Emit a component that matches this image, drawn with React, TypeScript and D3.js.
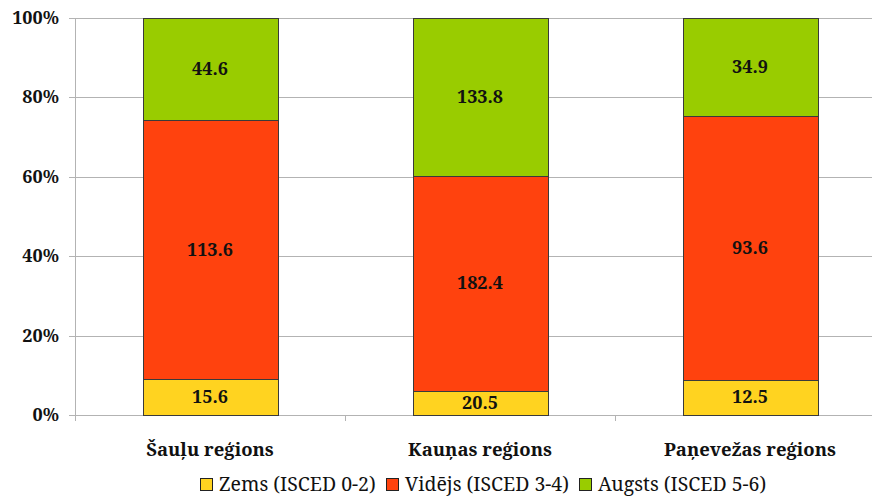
import { useEffect, useRef } from "react";
import * as d3 from "d3";

const categories = ["Šauļu reģions", "Kauņas reģions", "Paņevežas reģions"];
const seriesNames = ["Zems (ISCED 0-2)", "Vidējs (ISCED 3-4)", "Augsts (ISCED 5-6)"];
const zems = [15.6, 20.5, 12.5];
const videjs = [113.6, 182.4, 93.6];
const augsts = [44.6, 133.8, 34.9];
const yTicks = [0, 0.2, 0.4, 0.6, 0.8, 1];

const COLORS = ["#ffd320", "#ff420e", "#99cc00"];
const FONT = "Noto Serif, Liberation Serif, serif";

export default function App() {
    const ref = useRef<SVGSVGElement | null>(null);

    useEffect(() => {
        const svg = d3.select(ref.current);
        svg.selectAll("*").remove();

        const W = 872;
        const mLeft = 75;
        const top = 18;
        const bottom = 415;

        const x = d3
            .scaleBand()
            .domain(categories)
            .range([mLeft, mLeft + 270 * categories.length])
            .paddingInner(0.5)
            .paddingOuter(0.25);
        const y = d3.scaleLinear().domain([0, 1]).range([bottom, top]);

        const series = [zems, videjs, augsts];
        const rows = categories.map((c, i) => {
            const r: any = { cat: c };
            series.forEach((s, k) => (r["s" + k] = s[i]));
            return r;
        });
        const layers = d3
            .stack<any>()
            .keys(["s0", "s1", "s2"])
            .offset(d3.stackOffsetExpand)(rows);

        // grid
        svg.append("g")
            .selectAll("line")
            .data(yTicks)
            .join("line")
            .attr("x1", mLeft - 6)
            .attr("x2", W)
            .attr("y1", (d) => Math.round(y(d)) + 0.5)
            .attr("y2", (d) => Math.round(y(d)) + 0.5)
            .attr("stroke", "#b3b3b3");

        // y axis line
        svg.append("line")
            .attr("x1", mLeft + 0.5)
            .attr("x2", mLeft + 0.5)
            .attr("y1", top)
            .attr("y2", bottom + 6)
            .attr("stroke", "#b3b3b3");

        // category boundary ticks
        const bounds = categories.slice(1).map((c) => (x(c) ?? 0) - x.step() * 0.25);
        svg.append("g")
            .selectAll("line")
            .data(bounds)
            .join("line")
            .attr("x1", (d) => Math.round(d) + 0.5)
            .attr("x2", (d) => Math.round(d) + 0.5)
            .attr("y1", bottom)
            .attr("y2", bottom + 6)
            .attr("stroke", "#b3b3b3");

        const txt = (sel: any, size = 18, bold = true) =>
            sel
                .attr("font-family", FONT)
                .attr("font-weight", bold ? "bold" : "normal")
                .attr("font-size", size)
                .attr("fill", "#111");

        // y tick labels
        txt(
            svg.append("g")
                .selectAll("text")
                .data(yTicks)
                .join("text")
                .attr("x", mLeft - 16)
                .attr("y", (d: number) => y(d) + 6)
                .attr("text-anchor", "end")
                .text((d: number) => d3.format(".0%")(d)),
        );

        // bars
        layers.forEach((layer, k) => {
            const g = svg.append("g");
            g.selectAll("rect")
                .data(layer)
                .join("rect")
                .attr("x", (d) => Math.round(x(d.data.cat) ?? 0) + 0.5)
                .attr("width", Math.round(x.bandwidth()))
                .attr("y", (d) => Math.round(y(d[1])) + 0.5)
                .attr("height", (d) => Math.round(y(d[0])) - Math.round(y(d[1])))
                .attr("fill", COLORS[k])
                .attr("stroke", "#3a3a3a");
            txt(
                g.selectAll("text")
                    .data(layer)
                    .join("text")
                    .attr("x", (d: any) => (x(d.data.cat) ?? 0) + x.bandwidth() / 2)
                    .attr("y", (d: any) => (y(d[0]) + y(d[1])) / 2 + 6)
                    .attr("text-anchor", "middle")
                    .text((d: any) =>
                        d3.format(".1f")(series[k][categories.indexOf(d.data.cat)]),
                    ),
            );
        });

        // category labels
        txt(
            svg.append("g")
                .selectAll("text")
                .data(categories)
                .join("text")
                .attr("x", (d: string) => (x(d) ?? 0) + x.bandwidth() / 2)
                .attr("y", 456)
                .attr("text-anchor", "middle")
                .text((d: string) => d),
            18.5,
        );

        // legend
        const legend = svg.append("g");
        const items = seriesNames.map((name, k) => {
            const it = legend.append("g");
            it.append("rect")
                .attr("x", 0.5)
                .attr("y", 478.5)
                .attr("width", 12)
                .attr("height", 12)
                .attr("fill", COLORS[k])
                .attr("stroke", "#222");
            const t = txt(
                it.append("text").attr("x", 19).attr("y", 491).text(name),
                19.5,
                false,
            );
            const w = 19 + (t.node() as SVGTextElement).getComputedTextLength();
            return { it, w };
        });
        const gap = 10;
        const total = d3.sum(items, (d) => d.w) + gap * (items.length - 1);
        let cx = 483 - total / 2;
        items.forEach(({ it, w }) => {
            it.attr("transform", `translate(${Math.round(cx)},0)`);
            cx += w + gap;
        });
    }, []);

    return (
        <svg
            ref={ref}
            width={872}
            height={497}
            style={{ position: "absolute", left: 0, top: 0, background: "#fff" }}
        />
    );
}
